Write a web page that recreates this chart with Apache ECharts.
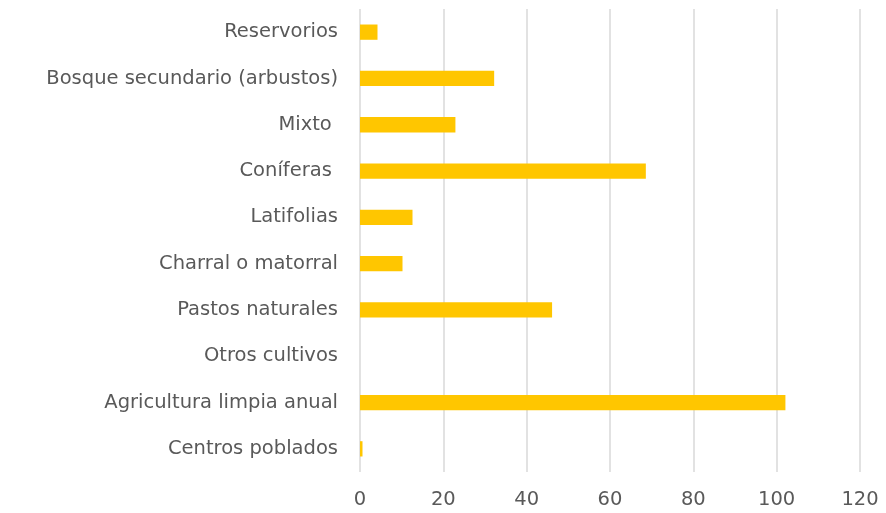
<!DOCTYPE html>
<html>
<head>
<meta charset="utf-8">
<script src="https://cdn.jsdelivr.net/npm/echarts@6/dist/echarts.min.js"></script>
<style>
  html, body { margin: 0; padding: 0; background: #fff; }
  #chart { width: 886px; height: 513px; }
</style>
</head>
<body>
<div id="chart"></div>
<script>
// Land-cover classes, listed bottom to top as the category axis draws them
const categories = [
  'Centros poblados',
  'Agricultura limpia anual',
  'Otros cultivos',
  'Pastos naturales',
  'Charral o matorral',
  'Latifolias',
  'Coníferas ',
  'Mixto ',
  'Bosque secundario (arbustos)',
  'Reservorios'
];
const areaValues = [0.6, 102.1, 0, 46.1, 10.2, 12.6, 68.6, 22.9, 32.2, 4.2];
const xTicks = [0, 20, 40, 60, 80, 100, 120];

const FONT = '"DejaVu Sans", sans-serif';
const chart = echarts.init(document.getElementById('chart'), null, { renderer: 'canvas' });
chart.setOption({
  animation: false,
  grid: { left: 360, right: 26, top: 9, bottom: 41, containLabel: false },
  xAxis: {
    type: 'value',
    min: xTicks[0],
    max: xTicks[xTicks.length - 1],
    interval: xTicks[1] - xTicks[0],
    axisLine: { show: false },
    axisTick: { show: false },
    splitLine: { show: true, lineStyle: { color: '#d9d9d9', width: 1.5 } },
    axisLabel: { color: '#595959', fontSize: 19.5, fontFamily: FONT, margin: 18 }
  },
  yAxis: {
    type: 'category',
    data: categories,
    axisLine: { show: false },
    axisTick: { show: false },
    axisLabel: { color: '#595959', fontSize: 19.5, fontFamily: FONT, margin: 22 }
  },
  series: [{
    type: 'bar',
    data: areaValues,
    barWidth: '33%',
    itemStyle: { color: '#ffc600' }
  }]
});
</script>
</body>
</html>
